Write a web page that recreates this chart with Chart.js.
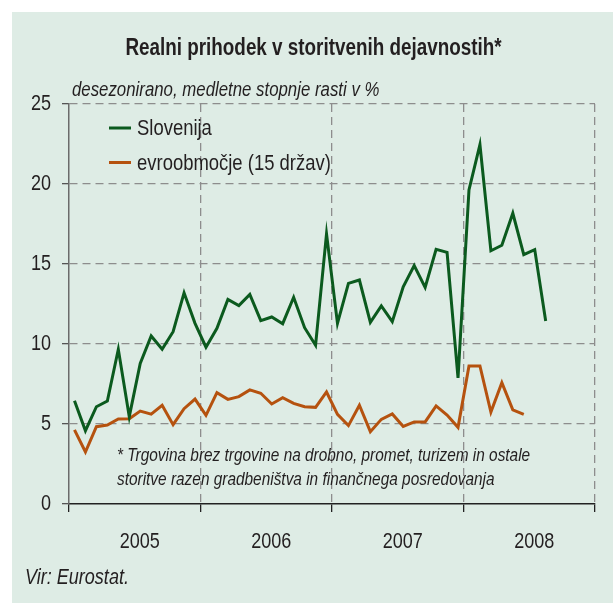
<!DOCTYPE html>
<html>
<head>
<meta charset="utf-8">
<script src="https://cdn.jsdelivr.net/npm/chart.js@4.4.1/dist/chart.umd.min.js"></script>
<style>
    html, body { margin: 0; padding: 0; background: #ffffff; }
    #panel { position: absolute; left: 12px; top: 12px; width: 601px; height: 591px; background: #deece5; }
    canvas { display: block; }
</style>
</head>
<body>
<div id="panel"><canvas id="chart-services" width="601" height="591"></canvas></div>
<script>
// Data
const years = ['2005', '2006', '2007', '2008'];
const slovenija = [
    6.46, 4.58, 6.08, 6.44, 9.67, 5.46, 8.79, 10.5, 9.67, 10.77, 13.2, 11.29,
    9.8, 10.98, 12.79, 12.4, 13.1, 11.46, 11.69, 11.27, 12.92, 11.02, 9.92, 16.88,
    11.29, 13.79, 14.0, 11.35, 12.38, 11.4, 13.58, 14.9, 13.54, 15.92, 15.73, 7.88,
    19.63, 22.46, 15.83, 16.17, 18.17, 15.58, 15.9, 11.44
];
const evroobmocje = [
    4.63, 3.25, 4.83, 4.94, 5.31, 5.33, 5.81, 5.62, 6.17, 4.96, 5.96, 6.56,
    5.54, 6.96, 6.54, 6.71, 7.13, 6.92, 6.25, 6.65, 6.29, 6.08, 6.04, 7.0,
    5.6, 4.9, 6.17, 4.52, 5.29, 5.63, 4.85, 5.13, 5.13, 6.13, 5.56, 4.79,
    8.63, 8.63, 5.75, 7.58, 5.88, 5.6
];
const yTicks = [0, 5, 10, 15, 20, 25];

const title = 'Realni prihodek v storitvenih dejavnostih*';
const subtitle = 'desezonirano, medletne stopnje rasti v %';
const footnote = [
    '* Trgovina brez trgovine na drobno, promet, turizem in ostale',
    'storitve razen gradbeništva in finančnega posredovanja'
];
const source = 'Vir: Eurostat.';

// no narrow face installed, so text is squeezed horizontally instead
const FONT = "'Liberation Sans', Arial, sans-serif";
const NARROW = 0.82;
const TEXT = '#231f20';
const GRID = '#8d8d8d';
const CLEAR = 'rgba(0,0,0,0)';

// one point per month, placed in the middle of the month
const toPoints = function (values) {
    return values.map(function (v, i) { return { x: i + 0.5, y: v }; });
};

const drawNarrow = function (ctx, text, x, y, align) {
    ctx.save();
    ctx.translate(x, y);
    ctx.scale(NARROW, 1);
    ctx.textAlign = align;
    ctx.fillText(text, 0, 0);
    ctx.restore();
};

// tick labels, title, notes and the legend inside the plot
const textPlugin = {
    id: 'texts',
    afterDraw: function (chart) {
        const ctx = chart.ctx;
        const xScale = chart.scales.x;
        const yScale = chart.scales.y;
        ctx.save();
        ctx.fillStyle = TEXT;
        ctx.textBaseline = 'middle';

        ctx.font = '22px ' + FONT;
        yScale.ticks.forEach(function (t) {
            drawNarrow(ctx, t.label, 39, yScale.getPixelForValue(t.value), 'right');
        });
        xScale.ticks.forEach(function (t) {
            if (t.label) {
                drawNarrow(ctx, t.label, xScale.getPixelForValue(t.value) + 5, 530, 'center');
            }
        });

        ctx.font = 'bold 23px ' + FONT;
        drawNarrow(ctx, title, 301.5, 37, 'center');

        ctx.font = 'italic 20.5px ' + FONT;
        drawNarrow(ctx, subtitle, 60, 78, 'left');

        ctx.font = 'italic 18.8px ' + FONT;
        drawNarrow(ctx, footnote[0], 105, 444, 'left');
        drawNarrow(ctx, footnote[1], 105, 468, 'left');

        ctx.font = 'italic 22px ' + FONT;
        drawNarrow(ctx, source, 13, 566, 'left');

        // legend
        ctx.font = '22.5px ' + FONT;
        const rows = [116, 150.5];
        chart.data.datasets.forEach(function (ds, i) {
            ctx.strokeStyle = ds.borderColor;
            ctx.lineWidth = 3;
            ctx.beginPath();
            ctx.moveTo(97, rows[i]);
            ctx.lineTo(119, rows[i]);
            ctx.stroke();
            drawNarrow(ctx, ds.label, 125, rows[i] + 1, 'left');
        });
        ctx.restore();
    }
};

new Chart(document.getElementById('chart-services'), {
    type: 'line',
    data: {
        datasets: [
            {
                label: 'Slovenija',
                data: toPoints(slovenija),
                borderColor: '#0b5a1e',
                borderWidth: 3,
                pointRadius: 0,
                tension: 0
            },
            {
                label: 'evroobmočje (15 držav)',
                data: toPoints(evroobmocje),
                borderColor: '#b5520f',
                borderWidth: 3,
                pointRadius: 0,
                tension: 0
            }
        ]
    },
    options: {
        responsive: false,
        animation: false,
        layout: { padding: { top: 92, right: 18, bottom: 0, left: 0 } },
        plugins: {
            legend: { display: false },
            title: { display: false },
            tooltip: { enabled: false }
        },
        scales: {
            x: {
                type: 'linear',
                min: 0,
                max: 48,
                afterFit: function (scale) { scale.height = 99; },
                ticks: {
                    stepSize: 6,
                    autoSkip: false,
                    maxRotation: 0,
                    color: CLEAR,
                    font: { family: FONT, size: 22 },
                    callback: function (value) {
                        return value % 12 === 6 ? years[(value - 6) / 12] : '';
                    }
                },
                grid: {
                    color: function (c) {
                        const v = c.tick ? c.tick.value : 0;
                        return (v % 12 === 0 && v !== 0) ? GRID : CLEAR;
                    },
                    lineWidth: 1.3,
                    tickLength: 8,
                    tickColor: function (c) {
                        return c.tick && c.tick.value % 12 === 0 ? '#222222' : CLEAR;
                    },
                    tickWidth: 1.3
                },
                border: { display: true, color: '#222222', width: 1.5, dash: [8, 5] }
            },
            y: {
                min: 0,
                max: 25,
                afterFit: function (scale) { scale.width = 57; },
                afterBuildTicks: function (scale) {
                    scale.ticks = yTicks.map(function (v) { return { value: v }; });
                },
                ticks: {
                    color: CLEAR,
                    font: { family: FONT, size: 22 }
                },
                grid: {
                    color: function (c) {
                        return c.tick && c.tick.value === 0 ? CLEAR : GRID;
                    },
                    lineWidth: 1.3,
                    tickLength: 7,
                    tickColor: '#555555',
                    tickWidth: 1.3
                },
                border: { display: true, color: '#6b6b6b', width: 1.5, dash: [8, 5] }
            }
        }
    },
    plugins: [textPlugin]
});
</script>
</body>
</html>
